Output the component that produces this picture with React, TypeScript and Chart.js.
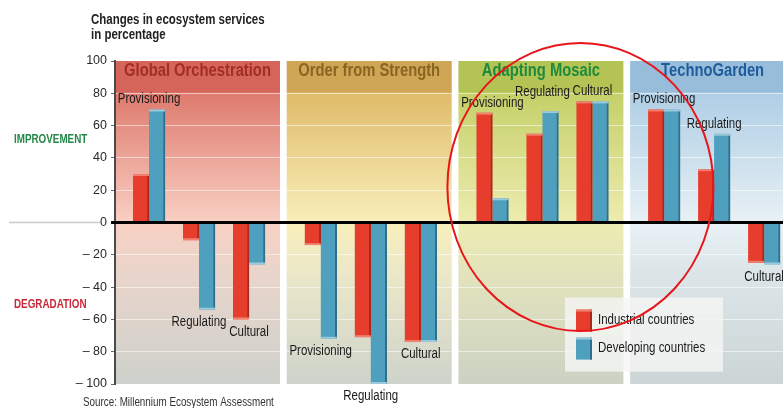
import React, { useEffect, useRef } from 'react';
import { Chart, registerables } from 'chart.js';

Chart.register(...registerables);

// ---------------- data ----------------
const panelNames = ['Global Orchestration', 'Order from Strength', 'Adapting Mosaic', 'TechnoGarden'];
const serviceNames = ['Provisioning', 'Regulating', 'Cultural'];
const seriesNames = ['Industrial countries', 'Developing countries'];
// one value per (panel, service), in panel order
const industrialValues = [30, -11, -60, -14, -71, -74, 68, 55, 75, 70, 33, -25];
const developingValues = [70, -54, -26, -72, -100, -74, 15, 69, 75, 70, 55, -26];
const yMin = -100;
const yMax = 100;
const yStep = 20;
const titleLines = ['Changes in ecosystem services', 'in percentage'];
const improvementLabel = 'IMPROVEMENT';
const degradationLabel = 'DEGRADATION';
const sourceText = 'Source: Millennium Ecosystem Assessment';

// ---------------- layout / style ----------------
const FONT = '"Liberation Sans", Arial, sans-serif';
const NARROW = 0.82; // horizontal squeeze to mimic a condensed face
const PERIOD = 3.434; // panel period in x units (1 unit = spacing of service groups)
const PANEL_W = 3.3;
const GROUP_OFF = 0.68;
const X_MAX = 13.36;

const groupX = (i: number) => Math.floor(i / 3) * PERIOD + GROUP_OFF + (i % 3);

const panelTheme = [
  { head: '#d5655b', c80: '#de7a6e', c0: '#f9d0c3', cm30: '#ead5cb', cm100: '#cdd1cb', text: '#a22d27' },
  { head: '#cfa556', c80: '#e0bb6a', c0: '#f8efba', cm30: '#ece8c8', cm100: '#ced3cb', text: '#8a6522' },
  { head: '#b3c354', c80: '#c5d068', c0: '#edecb0', cm30: '#e3e4bc', cm100: '#ccd2c4', text: '#1e8a3d' },
  { head: '#98bddb', c80: '#afcee5', c0: '#e8f1f5', cm30: '#dce6e9', cm100: '#ccd5d5', text: '#1f5c9b' },
];

const seriesStyle = [
  { fill: '#e63d2d', edge: '#a9291e', cap: '#f0806f' },
  { fill: '#4f9fbf', edge: '#2f6f8c', cap: '#9cc9db' },
];

function narrowText(ctx: CanvasRenderingContext2D, text: string, x: number, y: number, align: CanvasTextAlign) {
  ctx.save();
  ctx.translate(x, y);
  ctx.scale(NARROW, 1);
  ctx.textAlign = align;
  ctx.textBaseline = 'middle';
  ctx.fillText(text, 0, 0);
  ctx.restore();
}

const bgPlugin = {
  id: 'panelsBg',
  beforeDraw(chart: any) {
    const { ctx, scales } = chart;
    const x = scales.x;
    const y = scales.y;
    const top = y.getPixelForValue(yMax);
    const bottom = y.getPixelForValue(yMin);
    ctx.save();
    ctx.fillStyle = '#ffffff';
    ctx.fillRect(0, 0, chart.width, chart.height);
    const f = (v: number) => (yMax - v) / (yMax - yMin);
    panelNames.forEach((name, p) => {
      const x0 = x.getPixelForValue(p * PERIOD);
      const x1 = x.getPixelForValue(p * PERIOD + PANEL_W);
      const th = panelTheme[p];
      const g = ctx.createLinearGradient(0, top, 0, bottom);
      g.addColorStop(0, th.head);
      g.addColorStop(f(81), th.head);
      g.addColorStop(f(80), th.c80);
      g.addColorStop(f(0), th.c0);
      g.addColorStop(f(-30), th.cm30);
      g.addColorStop(1, th.cm100);
      ctx.fillStyle = g;
      ctx.fillRect(x0, top, x1 - x0, bottom - top);
      ctx.fillStyle = th.text;
      ctx.font = `bold 18px ${FONT}`;
      narrowText(ctx, name, (x0 + x1) / 2, y.getPixelForValue(93.5), 'center');
    });

    // title
    ctx.fillStyle = '#222';
    ctx.font = `bold 14px ${FONT}`;
    titleLines.forEach((t, i) => narrowText(ctx, t, 91, 20 + i * 15, 'left'));

    // side labels
    ctx.font = `bold 12px ${FONT}`;
    ctx.fillStyle = '#24874a';
    narrowText(ctx, improvementLabel, 14, y.getPixelForValue(51), 'left');
    ctx.fillStyle = '#c8283a';
    narrowText(ctx, degradationLabel, 14, y.getPixelForValue(-51), 'left');

    // thin grey guide at zero, left of axis
    const y0 = y.getPixelForValue(0);
    ctx.strokeStyle = '#c9c9c9';
    ctx.lineWidth = 1.5;
    ctx.beginPath();
    ctx.moveTo(9, y0);
    ctx.lineTo(100, y0);
    ctx.stroke();

    // source
    ctx.fillStyle = '#333';
    ctx.font = `12px ${FONT}`;
    narrowText(ctx, sourceText, 83, 403, 'left');
    ctx.restore();
  },
};

const overlayPlugin = {
  id: 'overlay',
  afterDatasetsDraw(chart: any) {
    const { ctx, scales, chartArea } = chart;
    const y = scales.y;
    const y0 = y.getPixelForValue(0);
    ctx.save();

    // light top cap on each bar (3D look)
    [0, 1].forEach((k) => {
      chart.getDatasetMeta(k).data.forEach((el: any) => {
        const w = el.width;
        const edgeY = el.y;
        ctx.fillStyle = seriesStyle[k].cap;
        const capY = el.y < el.base ? edgeY : edgeY - 2;
        ctx.fillRect(el.x - w / 2, capY, w, 2);
      });
    });

    // zero line
    ctx.strokeStyle = '#000';
    ctx.lineWidth = 3;
    ctx.beginPath();
    ctx.moveTo(chartArea.left - 4, y0);
    ctx.lineTo(chartArea.right, y0);
    ctx.stroke();

    // service labels next to each group
    const m0 = chart.getDatasetMeta(0).data;
    const m1 = chart.getDatasetMeta(1).data;
    ctx.font = `14px ${FONT}`;
    ctx.fillStyle = '#1a1a1a';
    const placed: { l: number; r: number; t: number; b: number }[] = [];
    industrialValues.forEach((v, i) => {
      const text = serviceNames[i % 3];
      const cx = (m0[i].x + m1[i].x) / 2;
      const up = v + developingValues[i] > 0;
      let cy = up ? Math.min(m0[i].y, m1[i].y) - 10 : Math.max(m0[i].y, m1[i].y) + 12.5;
      const w = ctx.measureText(text).width * NARROW;
      const h = 10;
      let box = { l: cx - w / 2, r: cx + w / 2, t: cy - h / 2, b: cy + h / 2 };
      const hit = () => placed.find((q) => q.l < box.r && q.r > box.l && q.t < box.b && q.b > box.t);
      let other = hit();
      let guard = 0;
      while (other && guard < 10) {
        cy = up ? other.t - h / 2 - 1 : other.b + h / 2 + 1;
        box = { l: cx - w / 2, r: cx + w / 2, t: cy - h / 2, b: cy + h / 2 };
        other = hit();
        guard++;
      }
      placed.push(box);
      narrowText(ctx, text, cx, cy, 'center');
    });
    ctx.restore();
  },
  afterDraw(chart: any) {
    const { ctx, scales } = chart;
    const x = scales.x;
    const y = scales.y;
    ctx.save();
    // legend
    const lx = x.getPixelForValue(9.0);
    const ly = y.getPixelForValue(-46.5);
    const lw = 158;
    const lh = 74;
    ctx.fillStyle = 'rgba(244,245,244,0.82)';
    ctx.fillRect(lx, ly, lw, lh);
    ctx.font = `14px ${FONT}`;
    seriesNames.forEach((name, i) => {
      const sy = ly + 12 + i * 28;
      ctx.fillStyle = seriesStyle[i].fill;
      ctx.fillRect(lx + 11, sy, 16, 22);
      ctx.fillStyle = seriesStyle[i].edge;
      ctx.fillRect(lx + 25, sy, 2, 22);
      ctx.fillStyle = seriesStyle[i].cap;
      ctx.fillRect(lx + 11, sy, 16, 2);
      ctx.fillStyle = '#1a1a1a';
      narrowText(ctx, name, lx + 33, sy + 11, 'left');
    });

    // red annotation ellipse around Adapting Mosaic
    const cx = x.getPixelForValue(2 * PERIOD + 2.44);
    const cy = y.getPixelForValue(22);
    ctx.strokeStyle = '#e8151b';
    ctx.lineWidth = 2;
    ctx.beginPath();
    ctx.ellipse(cx, cy, 133, 144, 0, 0, Math.PI * 2);
    ctx.stroke();
    ctx.restore();
  },
};

export default function App() {
  const ref = useRef<HTMLCanvasElement>(null);
  useEffect(() => {
    const canvas = ref.current as HTMLCanvasElement;
    const makeData = (vals: number[]) => vals.map((v, i) => ({ x: groupX(i), y: v }));
    const chart = new Chart(canvas, {
      type: 'bar',
      data: {
        datasets: [industrialValues, developingValues].map((vals, k) => ({
          label: seriesNames[k],
          data: makeData(vals),
          backgroundColor: seriesStyle[k].fill,
          borderColor: seriesStyle[k].edge,
          borderWidth: { top: 0, right: 2, bottom: 0, left: 0 },
          borderSkipped: false,
          barThickness: 16,
        })),
      } as any,
      options: {
        responsive: false,
        animation: false,
        layout: { padding: { top: 61, bottom: 24, left: 0, right: 0 } },
        scales: {
          x: { type: 'linear', min: 0, max: X_MAX, display: false, offset: false },
          y: {
            min: yMin,
            max: yMax,
            afterFit: (s: any) => {
              s.width = 115;
            },
            ticks: {
              stepSize: yStep,
              padding: 4,
              color: '#2a2a2a',
              font: { family: FONT, size: 12.5 },
              callback: (v: any) => (Number(v) < 0 ? '\u2013 ' + Math.abs(Number(v)) : String(v)),
            },
            grid: {
              drawOnChartArea: true,
              tickLength: 4,
              tickColor: '#666',
              lineWidth: 1,
              color: (c: any) =>
                c.tick && (c.tick.value === yMax || c.tick.value === yMin || c.tick.value === 0)
                  ? 'rgba(0,0,0,0)'
                  : 'rgba(255,255,255,0.55)',
            },
            border: { display: true, color: '#4a4a4a', width: 2 },
          },
        },
        plugins: { legend: { display: false }, tooltip: { enabled: false } },
      } as any,
      plugins: [bgPlugin, overlayPlugin],
    });
    return () => chart.destroy();
  }, []);
  return (
    <div style={{ position: 'fixed', left: 0, top: 0, width: 783, height: 408, background: '#fff' }}>
      <canvas ref={ref} width={783} height={408} style={{ display: 'block', width: 783, height: 408 }} />
    </div>
  );
}
